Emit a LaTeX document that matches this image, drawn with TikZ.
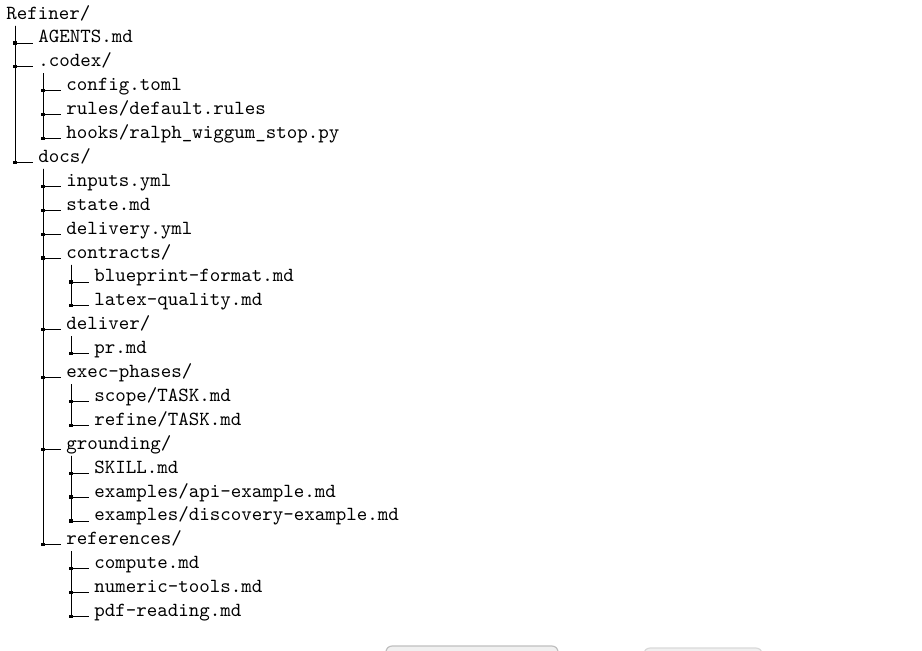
\documentclass[tikz,border=0pt]{standalone}
\usepackage{tikz}
\tikzset{
  entry/.style={anchor=base west, inner sep=0pt, font=\ttfamily},
  dirdot/.style={fill=black, inner sep=0pt, minimum size=1.6pt},
  dirline/.style={line width=0.4pt, to path={([xshift=#1,yshift=-3.25pt]\tikztostart.base west) |- node[pos=0.5, dirdot]{} ([xshift=-2.5pt]\tikztotarget.base west)}},
  dirline/.default=2.5pt,
  peek/.style={draw=black!25, fill=black!6, rounded corners=3pt, line width=0.6pt}
}
\begin{document}
\begin{tikzpicture}[x=0.5pt, y=-0.5pt]
\clip (0,0) rectangle (922,650);
\node[entry] (root) at (6,19) {Refiner/};
\node[entry] (agents) at (38,42.9) {AGENTS.md};
\node[entry] (codex) at (38,66.8) {.codex/};
\node[entry] (config) at (66,90.7) {config.toml};
\node[entry] (rules) at (66,114.6) {rules/default.rules};
\node[entry] (hooks) at (66,138.5) {hooks/ralph\_wiggum\_stop.py};
\node[entry] (docs) at (38,162.4) {docs/};
\node[entry] (inputs) at (66,186.3) {inputs.yml};
\node[entry] (state) at (66,210.2) {state.md};
\node[entry] (delivery) at (66,234.1) {delivery.yml};
\node[entry] (contracts) at (66,258) {contracts/};
\node[entry] (blueprint) at (94,281.9) {blueprint-format.md};
\node[entry] (quality) at (94,305.8) {latex-quality.md};
\node[entry] (deliver) at (66,329.7) {deliver/};
\node[entry] (pr) at (94,353.6) {pr.md};
\node[entry] (phases) at (66,377.5) {exec-phases/};
\node[entry] (scope) at (94,401.4) {scope/TASK.md};
\node[entry] (refine) at (94,425.3) {refine/TASK.md};
\node[entry] (grounding) at (66,449.2) {grounding/};
\node[entry] (skill) at (94,473.1) {SKILL.md};
\node[entry] (api) at (94,497) {examples/api-example.md};
\node[entry] (discovery) at (94,520.9) {examples/discovery-example.md};
\node[entry] (references) at (66,544.8) {references/};
\node[entry] (compute) at (94,568.7) {compute.md};
\node[entry] (numeric) at (94,592.6) {numeric-tools.md};
\node[entry] (pdf) at (94,616.5) {pdf-reading.md};
\draw (root) to[dirline=4.5pt] (agents);
\draw (root) to[dirline=4.5pt] (codex);
\draw (root) to[dirline=4.5pt] (docs);
\draw (codex) to[dirline] (config);
\draw (codex) to[dirline] (rules);
\draw (codex) to[dirline] (hooks);
\draw (docs) to[dirline] (inputs);
\draw (docs) to[dirline] (state);
\draw (docs) to[dirline] (delivery);
\draw (docs) to[dirline] (contracts);
\draw (docs) to[dirline] (deliver);
\draw (docs) to[dirline] (phases);
\draw (docs) to[dirline] (grounding);
\draw (docs) to[dirline] (references);
\draw (contracts) to[dirline] (blueprint);
\draw (contracts) to[dirline] (quality);
\draw (deliver) to[dirline] (pr);
\draw (phases) to[dirline] (scope);
\draw (phases) to[dirline] (refine);
\draw (grounding) to[dirline] (skill);
\draw (grounding) to[dirline] (api);
\draw (grounding) to[dirline] (discovery);
\draw (references) to[dirline] (compute);
\draw (references) to[dirline] (numeric);
\draw (references) to[dirline] (pdf);
\draw[peek] (386,646) rectangle (558,670);
\draw[peek, draw=black!15] (644,648) rectangle (762,670);
\end{tikzpicture}
\end{document}
